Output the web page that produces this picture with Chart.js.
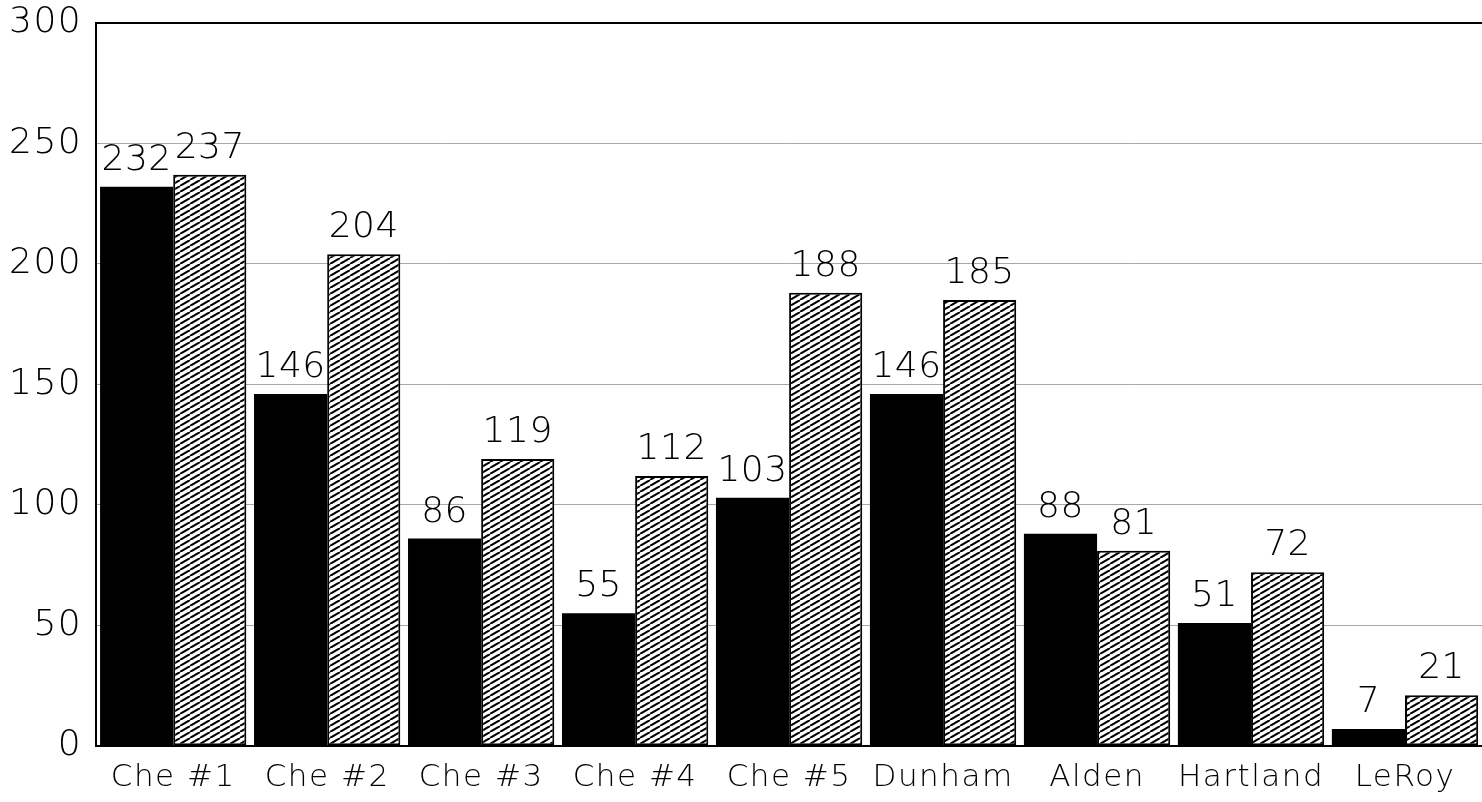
<!DOCTYPE html>
<html>
<head>
<meta charset="utf-8">
<script src="https://cdn.jsdelivr.net/npm/chart.js@4"></script>
<style>
  html, body { margin: 0; padding: 0; background: #fff; }
  #wrap { width: 1482px; height: 802px; }
</style>
</head>
<body>
<div id="wrap"><canvas id="chart" width="1482" height="802"></canvas></div>
<script>
const sites = ['Che #1', 'Che #2', 'Che #3', 'Che #4', 'Che #5', 'Dunham', 'Alden', 'Hartland', 'LeRoy'];
const solidValues = [232, 146, 86, 55, 103, 146, 88, 51, 7];
const hatchValues = [237, 204, 119, 112, 188, 185, 81, 72, 21];
const yTicks = [0, 50, 100, 150, 200, 250, 300];

const FONT = '"DejaVu Sans Light", "DejaVu Sans", sans-serif';

function makeHatch() {
    const w = 10, h = 6;
    const c = document.createElement('canvas');
    c.width = w; c.height = h;
    const g = c.getContext('2d');
    g.fillStyle = '#fff';
    g.fillRect(0, 0, w, h);
    g.strokeStyle = '#000';
    g.lineWidth = 2;
    for (let n = 0; n <= 2; n++) {
        g.beginPath();
        g.moveTo(n * w, 0);
        g.lineTo((n - 1) * w, h);
        g.stroke();
    }
    return g.createPattern(c, 'repeat');
}

const spacing = {
    id: 'spacing',
    beforeUpdate(chart) { chart.ctx.letterSpacing = '1.5px'; },
    beforeDraw(chart) { chart.ctx.letterSpacing = '1.5px'; }
};

const valueLabels = {
    id: 'valueLabels',
    afterDatasetsDraw(chart) {
        const ctx = chart.ctx;
        ctx.save();
        ctx.font = '36px ' + FONT;
        ctx.letterSpacing = '0.5px';
        ctx.fillStyle = '#000';
        ctx.textAlign = 'center';
        ctx.textBaseline = 'alphabetic';
        chart.data.datasets.forEach((ds, i) => {
            chart.getDatasetMeta(i).data.forEach((bar, j) => {
                ctx.fillText(String(ds.data[j]), bar.x, bar.y - 17);
            });
        });
        ctx.restore();
    }
};

const hatch = makeHatch();

new Chart(document.getElementById('chart'), {
    type: 'bar',
    data: {
        labels: sites,
        datasets: [
            {
                data: solidValues,
                backgroundColor: '#000',
                borderColor: '#000',
                borderWidth: 0,
                categoryPercentage: 0.95,
                barPercentage: 1.0
            },
            {
                data: hatchValues,
                backgroundColor: hatch,
                borderColor: '#000',
                borderWidth: 2,
                borderSkipped: false,
                categoryPercentage: 0.95,
                barPercentage: 1.0
            }
        ]
    },
    options: {
        responsive: false,
        animation: false,
        layout: { padding: { left: -5, top: -2, right: 0, bottom: -1 } },
        plugins: {
            legend: { display: false },
            tooltip: { enabled: false }
        },
        scales: {
            x: {
                grid: { display: false },
                border: { display: true, color: '#000', width: 2 },
                ticks: {
                    color: '#000',
                    padding: 6,
                    font: { family: FONT, size: 31 }
                }
            },
            y: {
                min: 0,
                max: 300,
                afterBuildTicks(scale) { scale.ticks = yTicks.map(v => ({ value: v })); },
                grid: {
                    drawTicks: false,
                    color: c => c.tick && c.tick.value === 300 ? '#000' : '#a8a8a8',
                    lineWidth: c => c.tick && c.tick.value === 300 ? 2 : 1
                },
                border: { display: true, color: '#000', width: 2 },
                ticks: {
                    color: '#000',
                    padding: 14,
                    font: { family: FONT, size: 36, lineHeight: 0.5 }
                }
            }
        }
    },
    plugins: [spacing, valueLabels]
});
</script>
</body>
</html>
